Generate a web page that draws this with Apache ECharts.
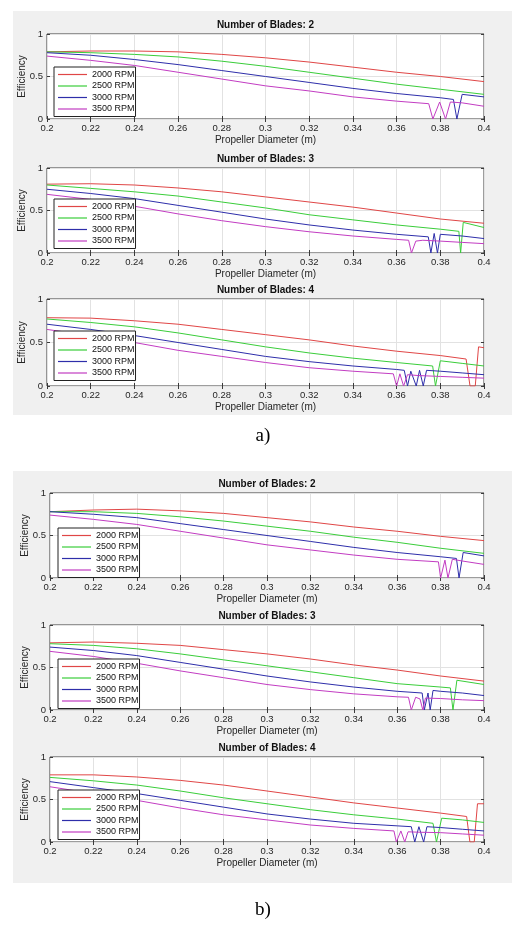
<!DOCTYPE html>
<html>
<head>
<meta charset="utf-8">
<script src="https://cdn.jsdelivr.net/npm/echarts@6/dist/echarts.min.js"></script>
<style>
html, body { margin: 0; padding: 0; background: #fff; }
#main { width: 518px; height: 928px; }
</style>
</head>
<body>
<div id="main"></div>
<script>
// 图例名称与颜色
var rpmNames = ['2000 RPM', '2500 RPM', '3000 RPM', '3500 RPM'];
var rpmColors = ['#e04646', '#3acd3a', '#2e2eaa', '#c23cc2'];
var bladeTitles = ['Number of Blades: 2', 'Number of Blades: 3', 'Number of Blades: 4'];
var panelLabels = ['a)', 'b)'];

// a) 叶片数 2
var a1_2000 = [[0.2,0.79],[0.22,0.80],[0.24,0.80],[0.26,0.79],[0.28,0.76],[0.30,0.72],[0.32,0.67],[0.34,0.61],[0.36,0.55],[0.38,0.50],[0.40,0.44]];
var a1_2500 = [[0.2,0.79],[0.22,0.78],[0.24,0.76],[0.26,0.73],[0.28,0.68],[0.30,0.62],[0.32,0.55],[0.34,0.48],[0.36,0.41],[0.38,0.35],[0.40,0.29]];
var a1_3000 = [[0.2,0.78],[0.22,0.75],[0.24,0.70],[0.26,0.64],[0.28,0.57],[0.30,0.50],[0.32,0.43],[0.34,0.36],[0.36,0.30],[0.38,0.25],[0.386,0.23],[0.3876,0],[0.3900,0.29],[0.40,0.26]];
var a1_3500 = [[0.2,0.74],[0.22,0.69],[0.24,0.63],[0.26,0.55],[0.28,0.47],[0.30,0.39],[0.32,0.33],[0.34,0.26],[0.36,0.21],[0.3747,0.18],[0.3766,0],[0.3797,0.20],[0.3824,0],[0.3846,0.20],[0.39,0.19],[0.40,0.15]];
// a) 叶片数 3
var a2_2000 = [[0.2,0.81],[0.22,0.815],[0.24,0.80],[0.26,0.765],[0.28,0.72],[0.30,0.66],[0.32,0.60],[0.34,0.54],[0.36,0.47],[0.38,0.40],[0.40,0.35]];
var a2_2500 = [[0.2,0.80],[0.22,0.76],[0.24,0.72],[0.26,0.67],[0.28,0.60],[0.30,0.53],[0.32,0.45],[0.34,0.39],[0.36,0.33],[0.38,0.28],[0.3885,0.255],[0.3893,0],[0.3905,0.36],[0.40,0.30]];
var a2_3000 = [[0.2,0.75],[0.22,0.70],[0.24,0.64],[0.26,0.56],[0.28,0.48],[0.30,0.40],[0.32,0.33],[0.34,0.27],[0.36,0.22],[0.3745,0.19],[0.3757,0],[0.3772,0.23],[0.3787,0],[0.3800,0.22],[0.39,0.20],[0.40,0.17]];
var a2_3500 = [[0.2,0.69],[0.22,0.63],[0.24,0.55],[0.26,0.46],[0.28,0.38],[0.30,0.31],[0.32,0.25],[0.34,0.20],[0.36,0.16],[0.3655,0.15],[0.3668,0],[0.3688,0.14],[0.372,0.15],[0.38,0.14],[0.39,0.125],[0.40,0.11]];
// a) 叶片数 4
var a3_2000 = [[0.2,0.785],[0.22,0.78],[0.24,0.75],[0.26,0.71],[0.28,0.65],[0.30,0.59],[0.32,0.53],[0.34,0.46],[0.36,0.40],[0.38,0.35],[0.3918,0.31],[0.3936,0],[0.3960,0],[0.3975,0.45],[0.40,0.44]];
var a3_2500 = [[0.2,0.77],[0.22,0.73],[0.24,0.68],[0.26,0.61],[0.28,0.53],[0.30,0.45],[0.32,0.38],[0.34,0.32],[0.36,0.27],[0.3765,0.23],[0.3778,0],[0.3800,0.29],[0.39,0.26],[0.40,0.23]];
var a3_3000 = [[0.2,0.71],[0.22,0.65],[0.24,0.58],[0.26,0.50],[0.28,0.42],[0.30,0.34],[0.32,0.28],[0.34,0.23],[0.36,0.19],[0.3635,0.18],[0.3650,0],[0.3665,0.17],[0.3690,0],[0.3705,0.18],[0.3722,0],[0.3737,0.18],[0.38,0.17],[0.39,0.15],[0.40,0.13]];
var a3_3500 = [[0.2,0.65],[0.22,0.58],[0.24,0.50],[0.26,0.41],[0.28,0.34],[0.30,0.27],[0.32,0.21],[0.34,0.17],[0.3585,0.14],[0.3600,0],[0.3615,0.14],[0.3632,0],[0.3650,0.13],[0.37,0.12],[0.38,0.11],[0.39,0.10],[0.40,0.09]];

// b) 叶片数 2
var b1_2000 = [[0.2,0.78],[0.22,0.80],[0.24,0.81],[0.26,0.79],[0.28,0.76],[0.30,0.71],[0.32,0.66],[0.34,0.60],[0.36,0.55],[0.38,0.49],[0.40,0.44]];
var b1_2500 = [[0.2,0.78],[0.22,0.78],[0.24,0.76],[0.26,0.72],[0.28,0.67],[0.30,0.61],[0.32,0.55],[0.34,0.48],[0.36,0.42],[0.38,0.35],[0.40,0.29]];
var b1_3000 = [[0.2,0.78],[0.22,0.75],[0.24,0.71],[0.26,0.64],[0.28,0.57],[0.30,0.50],[0.32,0.43],[0.34,0.36],[0.36,0.30],[0.38,0.25],[0.3873,0.23],[0.3885,0],[0.3904,0.30],[0.40,0.26]];
var b1_3500 = [[0.2,0.74],[0.22,0.69],[0.24,0.63],[0.26,0.55],[0.28,0.47],[0.30,0.39],[0.32,0.33],[0.34,0.27],[0.36,0.22],[0.379,0.19],[0.3800,0],[0.3820,0.21],[0.3834,0],[0.3854,0.22],[0.39,0.20],[0.40,0.16]];
// b) 叶片数 3
var b2_2000 = [[0.2,0.79],[0.22,0.80],[0.24,0.785],[0.26,0.76],[0.28,0.71],[0.30,0.66],[0.32,0.60],[0.34,0.53],[0.36,0.47],[0.38,0.40],[0.40,0.34]];
var b2_2500 = [[0.2,0.78],[0.22,0.76],[0.24,0.72],[0.26,0.66],[0.28,0.59],[0.30,0.52],[0.32,0.45],[0.34,0.38],[0.36,0.31],[0.38,0.27],[0.3845,0.26],[0.3857,0],[0.3875,0.35],[0.40,0.30]];
var b2_3000 = [[0.2,0.74],[0.22,0.70],[0.24,0.64],[0.26,0.56],[0.28,0.48],[0.30,0.40],[0.32,0.33],[0.34,0.27],[0.36,0.22],[0.3715,0.20],[0.3725,0],[0.3742,0.20],[0.3752,0],[0.3765,0.23],[0.38,0.22],[0.39,0.20],[0.40,0.17]];
var b2_3500 = [[0.2,0.69],[0.22,0.63],[0.24,0.55],[0.26,0.46],[0.28,0.38],[0.30,0.30],[0.32,0.24],[0.34,0.19],[0.36,0.155],[0.3652,0.15],[0.3665,0],[0.3685,0.15],[0.3705,0.13],[0.3718,0],[0.3730,0.14],[0.38,0.135],[0.39,0.12],[0.40,0.11]];
// b) 叶片数 4
var b3_2000 = [[0.2,0.79],[0.22,0.79],[0.24,0.765],[0.26,0.725],[0.28,0.67],[0.30,0.60],[0.32,0.53],[0.34,0.46],[0.36,0.40],[0.38,0.34],[0.392,0.30],[0.3935,0],[0.3955,0],[0.397,0.45],[0.40,0.45]];
var b3_2500 = [[0.2,0.76],[0.22,0.72],[0.24,0.67],[0.26,0.60],[0.28,0.52],[0.30,0.45],[0.32,0.38],[0.34,0.32],[0.36,0.27],[0.3765,0.22],[0.3781,0],[0.3805,0.28],[0.39,0.26],[0.40,0.23]];
var b3_3000 = [[0.2,0.71],[0.22,0.64],[0.24,0.57],[0.26,0.49],[0.28,0.41],[0.30,0.33],[0.32,0.27],[0.34,0.22],[0.36,0.19],[0.3665,0.18],[0.3681,0],[0.3700,0.18],[0.3722,0],[0.3737,0.18],[0.38,0.17],[0.39,0.15],[0.40,0.13]];
var b3_3500 = [[0.2,0.65],[0.22,0.57],[0.24,0.49],[0.26,0.40],[0.28,0.32],[0.30,0.26],[0.32,0.20],[0.34,0.16],[0.3585,0.13],[0.3596,0],[0.3617,0.13],[0.3635,0],[0.3650,0.12],[0.37,0.115],[0.38,0.11],[0.39,0.095],[0.40,0.08]];

var chart = echarts.init(document.getElementById('main'));
var font = 'Liberation Sans, Arial, Helvetica, sans-serif';
var axisColor = '#3a3a3a';
var textColor = '#262626';

// 子图布局
var panels = [
    { grid: {left: 47, top: 34, width: 437, height: 85}, legend: {left: 54, top: 67}, title: bladeTitles[0], lines: [a1_2000, a1_2500, a1_3000, a1_3500] },
    { grid: {left: 47, top: 168, width: 437, height: 85}, legend: {left: 54, top: 199}, title: bladeTitles[1], lines: [a2_2000, a2_2500, a2_3000, a2_3500] },
    { grid: {left: 47, top: 299, width: 437, height: 87}, legend: {left: 54, top: 331}, title: bladeTitles[2], lines: [a3_2000, a3_2500, a3_3000, a3_3500] },
    { grid: {left: 50, top: 493, width: 434, height: 85}, legend: {left: 58, top: 528}, title: bladeTitles[0], lines: [b1_2000, b1_2500, b1_3000, b1_3500] },
    { grid: {left: 50, top: 625, width: 434, height: 85}, legend: {left: 58, top: 659}, title: bladeTitles[1], lines: [b2_2000, b2_2500, b2_3000, b2_3500] },
    { grid: {left: 50, top: 757, width: 434, height: 85}, legend: {left: 58, top: 790}, title: bladeTitles[2], lines: [b3_2000, b3_2500, b3_3000, b3_3500] }
];

var grids = [], xAxes = [], yAxes = [], titles = [], legends = [], series = [];

panels.forEach(function(p, i) {
    grids.push({
        left: p.grid.left, top: p.grid.top, width: p.grid.width, height: p.grid.height,
        show: true, backgroundColor: '#fff', borderColor: axisColor, borderWidth: 1
    });
    titles.push({
        text: p.title,
        left: p.grid.left + p.grid.width / 2,
        top: p.grid.top - 14,
        textAlign: 'center',
        padding: 0,
        textStyle: { fontFamily: font, fontSize: 10, fontWeight: 'bold', color: '#111' }
    });
    // 下方与上方x轴（上方只画刻度）
    xAxes.push({
        gridIndex: i, type: 'value', position: 'bottom',
        min: 0.2, max: 0.4, interval: 0.02,
        name: 'Propeller Diameter (m)', nameLocation: 'middle', nameGap: 16,
        nameTextStyle: { fontFamily: font, fontSize: 10, color: textColor },
        axisLine: { show: false },
        axisTick: { show: true, inside: true, length: 3, lineStyle: { color: axisColor } },
        axisLabel: { fontFamily: font, fontSize: 9.5, color: textColor, margin: 4 },
        splitLine: { show: true, lineStyle: { color: '#e2e2e2', width: 1 } }
    });
    xAxes.push({
        gridIndex: i, type: 'value', position: 'top',
        min: 0.2, max: 0.4, interval: 0.02,
        axisLine: { show: false },
        axisTick: { show: true, inside: true, length: 3, lineStyle: { color: axisColor } },
        axisLabel: { show: false },
        splitLine: { show: false }
    });
    yAxes.push({
        gridIndex: i, type: 'value', position: 'left',
        min: 0, max: 1, interval: 0.5,
        name: 'Efficiency', nameLocation: 'middle', nameGap: 20, nameMoveOverlap: false,
        nameTextStyle: { fontFamily: font, fontSize: 10, color: textColor },
        axisLine: { show: false },
        axisTick: { show: true, inside: true, length: 3, lineStyle: { color: axisColor } },
        axisLabel: { fontFamily: font, fontSize: 9.5, color: textColor, margin: 4 },
        splitLine: { show: true, lineStyle: { color: '#e2e2e2', width: 1 } }
    });
    yAxes.push({
        gridIndex: i, type: 'value', position: 'right',
        min: 0, max: 1, interval: 0.5,
        axisLine: { show: false },
        axisTick: { show: true, inside: true, length: 3, lineStyle: { color: axisColor } },
        axisLabel: { show: false },
        splitLine: { show: false }
    });
    legends.push({
        data: rpmNames,
        orient: 'vertical',
        left: p.legend.left, top: p.legend.top,
        icon: 'rect',
        itemWidth: 29, itemHeight: 1.2, itemGap: 2.5,
        padding: [3, 1, 3, 4],
        backgroundColor: '#fff', borderColor: '#222', borderWidth: 1, borderRadius: 0,
        selectedMode: false,
        textStyle: { fontFamily: font, fontSize: 9, color: '#111' }
    });
    p.lines.forEach(function(d, k) {
        series.push({
            name: rpmNames[k],
            type: 'line',
            xAxisIndex: 2 * i, yAxisIndex: 2 * i,
            data: d,
            symbol: 'none',
            clip: true,
            animation: false,
            lineStyle: { color: rpmColors[k], width: 1 },
            itemStyle: { color: rpmColors[k] }
        });
    });
});

var option = {
    backgroundColor: '#fff',
    animation: false,
    // 灰色底板和 a) b) 标注
    graphic: [
        { type: 'rect', z: -100, silent: true, shape: { x: 13, y: 11, width: 499, height: 404 }, style: { fill: '#f0f0f0' } },
        { type: 'rect', z: -100, silent: true, shape: { x: 13, y: 471, width: 499, height: 412 }, style: { fill: '#f0f0f0' } },
        { type: 'text', x: 263, y: 436, style: { text: panelLabels[0], fontFamily: 'Liberation Serif, Times New Roman, serif', fontSize: 19, fill: '#000', textAlign: 'center', textVerticalAlign: 'middle' } },
        { type: 'text', x: 263, y: 910, style: { text: panelLabels[1], fontFamily: 'Liberation Serif, Times New Roman, serif', fontSize: 19, fill: '#000', textAlign: 'center', textVerticalAlign: 'middle' } }
    ],
    title: titles,
    legend: legends,
    grid: grids,
    xAxis: xAxes,
    yAxis: yAxes,
    series: series
};

chart.setOption(option);
</script>
</body>
</html>
